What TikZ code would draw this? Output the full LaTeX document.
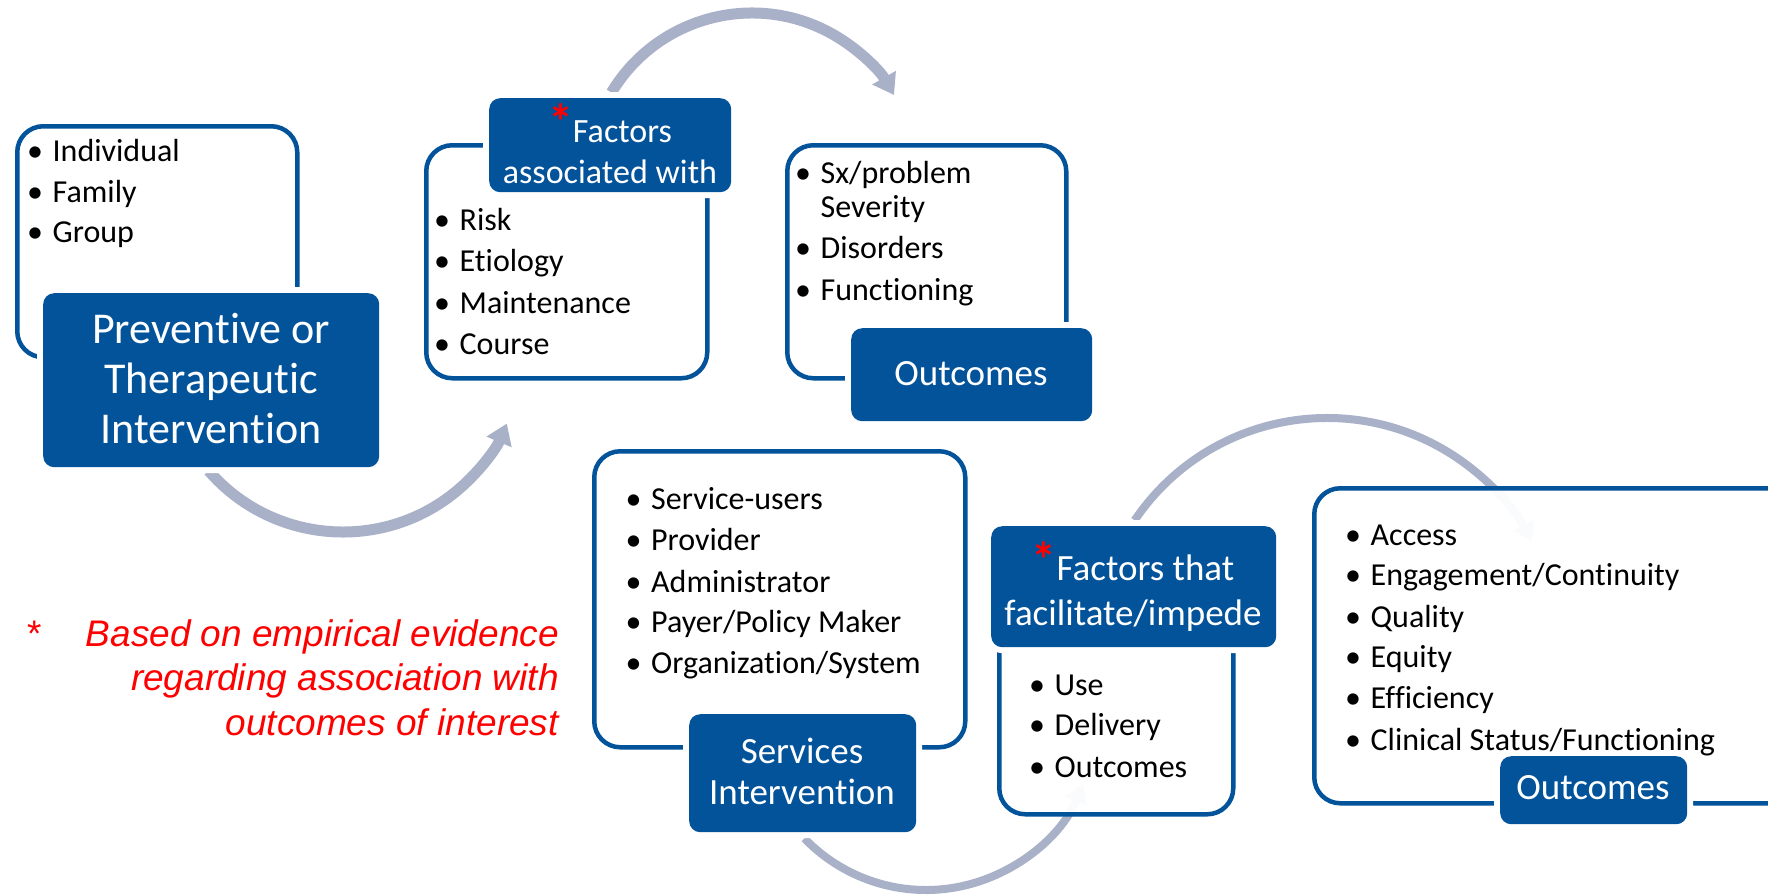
\documentclass[tikz,border=0pt]{standalone}
\usepackage{fontspec}
\setmainfont{Carlito}[RawFeature=-liga, RawFeature=-clig, RawFeature=-rlig, RawFeature=-calt, RawFeature=-dlig, RawFeature=-ccmp]
\newfontfamily\arialf{Liberation Sans}
\usetikzlibrary{arrows.meta}
\definecolor{dblue}{HTML}{03539B}
\definecolor{agray}{HTML}{A9B1C8}
\definecolor{fred}{HTML}{FF0000}
\newcommand{\bu}{\makebox[25.5pt][l]{•}}
\newcommand{\nb}{\kern0pt{}}
\newcommand{\rast}{\textcolor{fred}{\raisebox{3pt}{\fontsize{50}{50}\selectfont\bfseries *}}}
\begin{document}
\begin{tikzpicture}[x=1pt,y=-1pt,
  outl/.style={draw=dblue, line width=4.5pt, rounded corners=26pt, fill=white, inner sep=0pt, anchor=north west},
  outlt/.style={outl, fill opacity=0.95},
  dark/.style={fill=dblue, rounded corners=11pt, inner sep=0pt, anchor=north west, preaction={draw=white, line width=12pt}},
  bul/.style={inner sep=0pt, anchor=base west, font=\fontsize{32}{34}\selectfont},
  hdrA/.style={inner sep=0pt, anchor=base, text=white, font=\fontsize{44}{50}\selectfont},
  hdrB/.style={inner sep=0pt, anchor=base, text=white, font=\fontsize{34}{40}\selectfont},
  hdrC/.style={inner sep=0pt, anchor=base, text=white, font=\fontsize{37}{42}\selectfont},
  arr/.style={draw=agray, line width=11pt, -{Triangle[width=26pt,length=20pt]}},
  arrt/.style={draw=agray, line width=8pt, -{Triangle[width=22pt,length=18pt]}},
  note/.style={inner sep=0pt, anchor=base east, text=fred, font=\arialf\itshape\fontsize{37}{44}\selectfont}
]
\useasboundingbox (0,0) rectangle (1768,895);
\clip (0,0) rectangle (1768,895);
\fill[white] (0,0) rectangle (1768,895);

% arrows
\path (343,354) ++(139:178) coordinate (a1s);
\draw[arr] (a1s) arc[start angle=139, end angle=23, radius=178];
\path (752,177) ++(-149:164) coordinate (a2s);
\draw[arr] (a2s) arc[start angle=-149, end angle=-30, radius=164];
\path (926,721) ++(136:169) coordinate (a3s);
\draw[arrt] (a3s) arc[start angle=136, end angle=22, radius=169];
\path (1327,650) ++(-146:232) coordinate (a4s);
\draw[arrt] (a4s) arc[start angle=-146, end angle=-28, radius=232];

% outline boxes
\node[outl, minimum width=280pt, minimum height=231pt] (o1) at (15,124) {};
\node[outl, minimum width=281pt, minimum height=233pt] (o2) at (424,143) {};
\node[outl, minimum width=279pt, minimum height=233pt] (o3) at (785,143) {};
\node[outl, minimum width=371pt, minimum height=296pt] (o4) at (592,449) {};
\node[outlt, minimum width=234pt, minimum height=212pt] (o5) at (997,600) {};
\node[outlt, minimum width=483pt, minimum height=315pt] (o6) at (1312,486) {};

% dark boxes
\node[dark, minimum width=336pt, minimum height=174pt] (d1) at (43,293) {};
\node[dark, minimum width=242pt, minimum height=94pt] (d2) at (489,98) {};
\node[dark, minimum width=241pt, minimum height=93pt] (d3) at (851,328) {};
\node[dark, minimum width=227pt, minimum height=118pt] (d4) at (689,714) {};
\node[dark, minimum width=285pt, minimum height=121pt] (d5) at (991,526) {};
\node[dark, minimum width=187pt, minimum height=68pt] (d6) at (1500,756) {};

% header texts
\node[hdrA] (h1a) at (211,343) {Prevent\nb ive or};
\node[hdrA] (h1b) at (211,393) {Therapeut\nb ic};
\node[hdrA] (h1c) at (211,443) {Intervent\nb ion};
\node[hdrB] (h2a) at (610,142) {\rast Factors};
\node[hdrB] (h2b) at (610,183) {associat\nb ed with};
\node[hdrC] (h3a) at (971,385) {Outcomes};
\node[hdrC] (h4a) at (802,763) {Services};
\node[hdrC] (h4b) at (802,804) {Intervent\nb ion};
\node[hdrC] (h5a) at (1133,580) {\rast Factors that};
\node[hdrC] (h5b) at (1133,625) {facilitate/impede};
\node[hdrC] (h6a) at (1593,799) {Outcomes};

% bullet lists
\node[bul] (b1a) at (27,161) {\bu Individual};
\node[bul] (b1b) at (27,202) {\bu Family};
\node[bul] (b1c) at (27,242) {\bu Group};

\node[bul] (b2a) at (434,230) {\bu Risk};
\node[bul] (b2b) at (434,271) {\bu Et\nb iology};
\node[bul] (b2c) at (434,313) {\bu Maintenance};
\node[bul] (b2d) at (434,354) {\bu Course};

\node[bul] (b3a) at (795,183) {\bu Sx/problem};
\node[bul] (b3b) at (795,217) {\hspace{25.5pt}Severity};
\node[bul] (b3c) at (795,258) {\bu Disorders};
\node[bul] (b3d) at (795,300) {\bu Funct\nb ioning};

\node[bul] (b4a) at (625.5,509) {\bu Service-users};
\node[bul] (b4b) at (625.5,550) {\bu Provider};
\node[bul] (b4c) at (625.5,592) {\bu Administrator};
\node[bul] (b4d) at (625.5,632) {\bu Payer/Policy Maker};
\node[bul] (b4e) at (625.5,673) {\bu Organizat\nb ion/System};

\node[bul] (b5a) at (1029,695) {\bu Use};
\node[bul] (b5b) at (1029,735) {\bu Delivery};
\node[bul] (b5c) at (1029,777) {\bu Outcomes};

\node[bul] (b6a) at (1345,545) {\bu Access};
\node[bul] (b6b) at (1345,585) {\bu Engagement/Cont\nb inuity};
\node[bul] (b6c) at (1345,627) {\bu Quality};
\node[bul] (b6d) at (1345,667) {\bu Equity};
\node[bul] (b6e) at (1345,708) {\bu Ef\nb f\nb iciency};
\node[bul] (b6f) at (1345,750) {\bu Clinical Status/Funct\nb ioning};

% footnote
\node[inner sep=0pt, anchor=base west, text=fred, font=\arialf\fontsize{37}{44}\selectfont] (nast) at (27,646) {*};
\node[note] (n1) at (559,646) {Based on empirical evidence};
\node[note] (n2) at (559,690) {regarding association with};
\node[note] (n3) at (559,735) {outcomes of interest};
\end{tikzpicture}
\end{document}
